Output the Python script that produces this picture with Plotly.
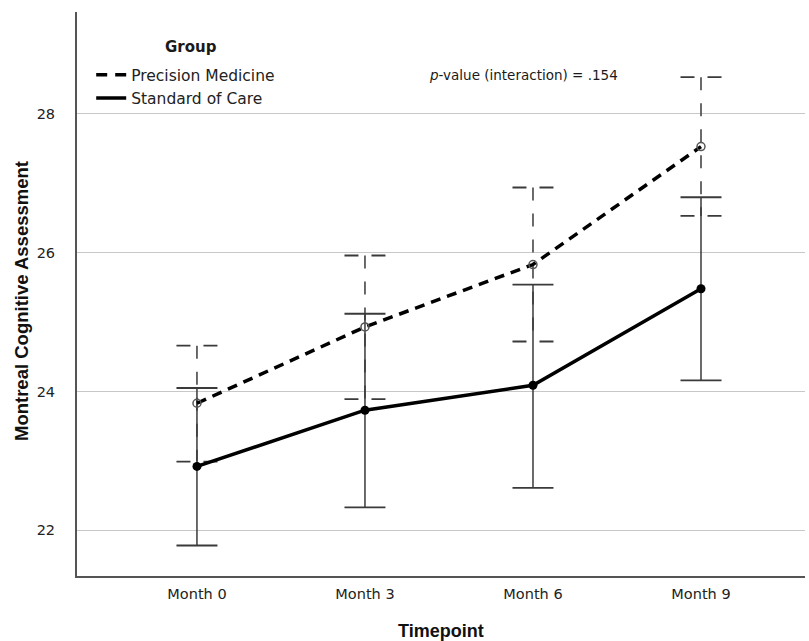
import plotly.graph_objects as go

# ---- data ----
timepoints = ["Month 0", "Month 3", "Month 6", "Month 9"]
x_pos = [0, 1, 2, 3]

pm_mean = [23.83, 24.93, 25.83, 27.53]
pm_lower = [22.99, 23.89, 24.72, 26.53]
pm_upper = [24.66, 25.96, 26.94, 28.53]

soc_mean = [22.92, 23.73, 24.09, 25.48]
soc_lower = [21.78, 22.33, 22.61, 24.16]
soc_upper = [24.05, 25.12, 25.54, 26.80]

y_ticks = [22, 24, 26, 28]
p_text = "<i>p</i>-value (interaction) = .154"

CAP = 0.122
FONT = "Liberation Sans, Arial, sans-serif"
WIDE = "DejaVu Sans, Verdana, sans-serif"


def bar_paths(xs, lo, hi):
    vx, vy, cx, cy = [], [], [], []
    for x, l, h in zip(xs, lo, hi):
        vx += [x, x, None]
        vy += [h, l, None]
        for v in (h, l):
            cx += [x - CAP, x + CAP, None]
            cy += [v, v, None]
    return vx, vy, cx, cy


fig = go.Figure()

# error bars - Precision Medicine (dashed)
vx, vy, cx, cy = bar_paths(x_pos, pm_lower, pm_upper)
fig.add_trace(go.Scatter(x=vx, y=vy, mode="lines", showlegend=False, hoverinfo="skip",
                         line=dict(color="#3a3a3a", width=1.5, dash="13px,13px")))
fig.add_trace(go.Scatter(x=cx, y=cy, mode="lines", showlegend=False, hoverinfo="skip",
                         line=dict(color="#3a3a3a", width=1.8, dash="14px,13px")))
# error bars - Standard of Care (solid)
vx, vy, cx, cy = bar_paths(x_pos, soc_lower, soc_upper)
fig.add_trace(go.Scatter(x=vx, y=vy, mode="lines", showlegend=False, hoverinfo="skip",
                         line=dict(color="#3a3a3a", width=1.5)))
fig.add_trace(go.Scatter(x=cx, y=cy, mode="lines", showlegend=False, hoverinfo="skip",
                         line=dict(color="#3a3a3a", width=1.8)))

# mean lines
fig.add_trace(go.Scatter(x=x_pos, y=pm_mean, mode="lines+markers", showlegend=False,
                         line=dict(color="black", width=3.5, dash="10px,7px"),
                         marker=dict(symbol="circle-open", size=8, color="#555555",
                                     line=dict(width=1.5, color="#555555"))))
fig.add_trace(go.Scatter(x=x_pos, y=soc_mean, mode="lines+markers", showlegend=False,
                         line=dict(color="black", width=3.5),
                         marker=dict(symbol="circle", size=9, color="black")))

# legend entries
fig.add_trace(go.Scatter(x=[None], y=[None], mode="lines", name="Precision Medicine",
                         line=dict(color="black", width=3.5, dash="11px,8px")))
fig.add_trace(go.Scatter(x=[None], y=[None], mode="lines", name="Standard of Care",
                         line=dict(color="black", width=3.5)))

# legend title
fig.add_annotation(text="<b>Group</b>", xref="paper", yref="paper", x=0.1566, y=0.938,
                   xanchor="center", yanchor="middle", showarrow=False,
                   font=dict(family=WIDE, size=15, color="#1a1a1a"))
# p-value
fig.add_annotation(text=p_text, xref="paper", yref="paper", x=0.481, y=0.888,
                   xanchor="left", yanchor="middle", showarrow=False,
                   font=dict(family=WIDE, size=13.5, color="#1a1a1a"))
# axis titles
fig.add_annotation(text="<b>Timepoint</b>", xref="paper", yref="paper", x=0.5, y=-0.098,
                   xanchor="center", yanchor="middle", showarrow=False,
                   font=dict(family=FONT, size=18, color="#111111"))
fig.add_annotation(text="<b>Montreal Cognitive Assessment</b>", xref="paper", yref="paper",
                   x=-0.076, y=0.487, xanchor="center", yanchor="middle", textangle=-90,
                   showarrow=False, font=dict(family=FONT, size=18.5, color="#111111"))

fig.update_layout(
    width=809, height=641,
    margin=dict(l=77, r=4, t=12, b=65),
    plot_bgcolor="white", paper_bgcolor="white",
    font=dict(family=FONT, color="#222222"),
    showlegend=True,
    legend=dict(x=0.0195, y=0.918, xanchor="left", yanchor="top",
                bgcolor="rgba(0,0,0,0)",
                font=dict(family=WIDE, size=15.5, color="#222222"),
                itemwidth=30, tracegroupgap=0),
    xaxis=dict(range=[-0.714, 3.619], tickvals=x_pos, ticktext=timepoints,
               showgrid=False, zeroline=False,
               showline=True, linecolor="#555555", linewidth=2,
               ticks="outside", ticklen=4, tickcolor="rgba(0,0,0,0)",
               tickfont=dict(family=WIDE, size=14.5, color="#222222")),
    yaxis=dict(range=[21.34, 29.47], tickvals=y_ticks,
               showgrid=True, gridcolor="#c8c8c8", gridwidth=1.2, zeroline=False,
               showline=True, linecolor="#555555", linewidth=2,
               ticks="outside", ticklen=17, tickcolor="rgba(0,0,0,0)",
               tickfont=dict(family=WIDE, size=14.5, color="#222222")),
)

fig.write_html("out.html")
